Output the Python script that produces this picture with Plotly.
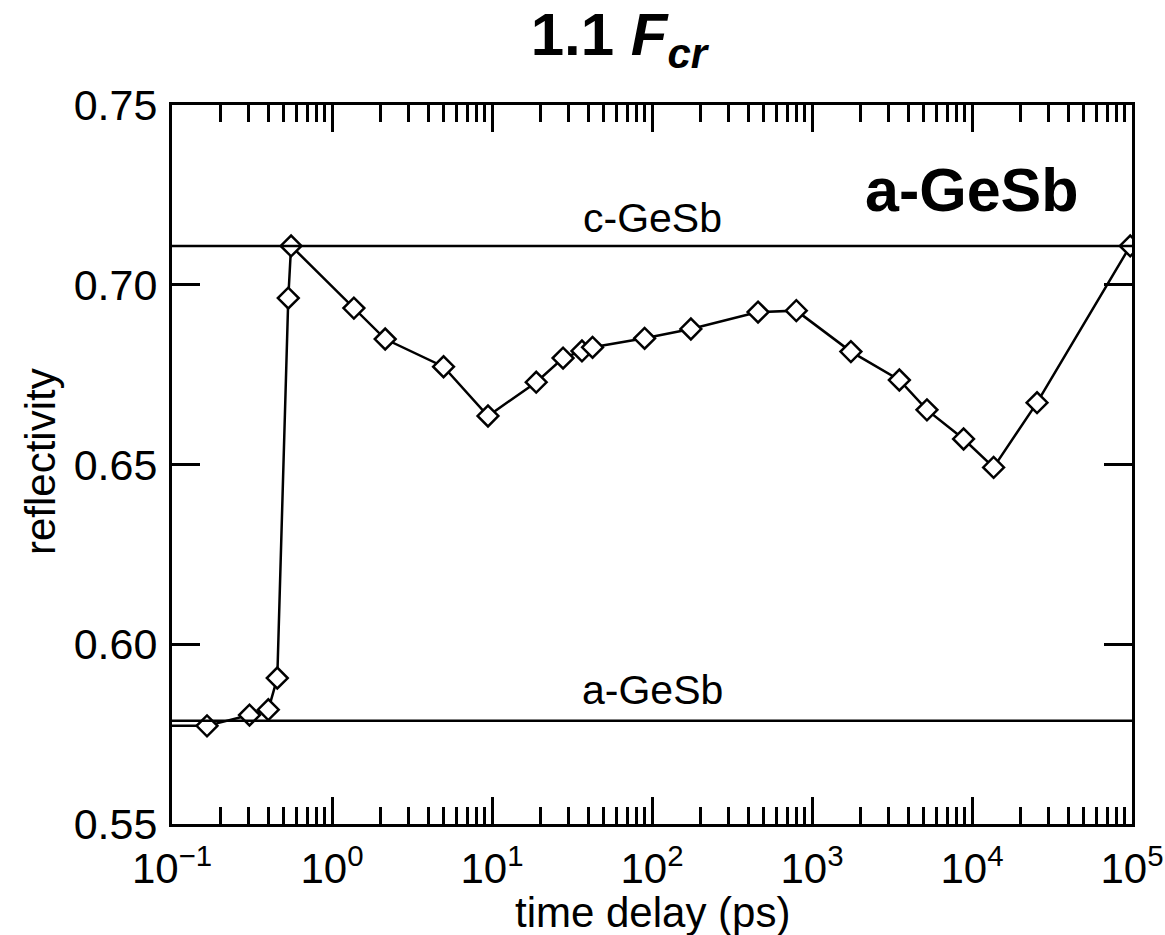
import plotly.graph_objects as go

# ---- data ----
time_ps = [0.05, 0.1655, 0.305, 0.400, 0.455, 0.533, 0.555, 1.37, 2.15, 4.98, 9.44,
           18.9, 27.8, 36.5, 42.5, 89.9, 175, 460, 798, 1750, 3515, 5230, 8860,
           13650, 25500, 97500]
reflectivity = [0.5773, 0.5773, 0.5803, 0.5818, 0.5906, 0.6963, 0.7108, 0.6935, 0.6849,
                0.6772, 0.6635, 0.6729, 0.6796, 0.6816, 0.6826, 0.6851, 0.6877,
                0.6924, 0.6928, 0.6814, 0.6735, 0.6652, 0.6571, 0.6492, 0.6672,
                0.7108]
c_gesb_level = 0.7108
a_gesb_level = 0.5787

x_tick_vals = [0.1, 1, 10, 100, 1000, 10000, 100000]
x_tick_text = ["10<sup>\u22121</sup>", "10<sup>0</sup>", "10<sup>1</sup>", "10<sup>2</sup>",
               "10<sup>3</sup>", "10<sup>4</sup>", "10<sup>5</sup>"]
x_minor_vals = [m * d for d in [0.1, 1, 10, 100, 1000, 10000] for m in range(2, 10)]
y_tick_vals = [0.55, 0.60, 0.65, 0.70, 0.75]
y_tick_text = ["0.55", "0.60", "0.65", "0.70", "0.75"]

FONT = "Arial, Liberation Sans, Helvetica, sans-serif"

fig = go.Figure()
fig.add_trace(go.Scatter(
    x=time_ps, y=reflectivity, mode="lines+markers",
    line=dict(color="black", width=2.5),
    marker=dict(symbol="diamond", size=16, color="white",
                line=dict(color="black", width=2.5)),
    showlegend=False, cliponaxis=True,
))

fig.add_hline(y=c_gesb_level, line=dict(color="black", width=2.5))
fig.add_hline(y=a_gesb_level, line=dict(color="black", width=2.5))

fig.add_annotation(x=2, y=0.7186, xref="x", yref="y", text="c-GeSb", showarrow=False,
                   font=dict(family=FONT, size=41, color="black"))
fig.add_annotation(x=2, y=0.5873, xref="x", yref="y", text="a-GeSb", showarrow=False,
                   font=dict(family=FONT, size=41, color="black"))
fig.add_annotation(x=4, y=0.7264, xref="x", yref="y", text="<b>a-GeSb</b>", showarrow=False,
                   font=dict(family=FONT, size=61, color="black"))

# axis titles as annotations for exact placement
fig.add_annotation(x=0.5, y=-(912 - 824) / 719, xref="paper", yref="paper",
                   text="time delay (ps)", showarrow=False, xanchor="center", yanchor="middle",
                   font=dict(family=FONT, size=42, color="black"))
fig.add_annotation(x=-(172 - 40) / 960, y=(824 - 462) / 719, xref="paper", yref="paper",
                   text="reflectivity", showarrow=False, textangle=-90,
                   xanchor="center", yanchor="middle",
                   font=dict(family=FONT, size=42, color="black"))

axis_common = dict(
    showline=True, linecolor="black", linewidth=3, mirror="ticks",
    ticks="inside", tickcolor="black", tickwidth=2.5, showgrid=False, zeroline=False,
    automargin=False,
)

fig.update_xaxes(
    type="log", range=[-1, 5],
    tickmode="array", tickvals=x_tick_vals, ticktext=x_tick_text, ticklen=27,
    tickfont=dict(family=FONT, size=42, color="black"), ticklabelstandoff=6,
    minor=dict(tickmode="array", tickvals=x_minor_vals, ticks="inside", ticklen=17,
               tickcolor="black", tickwidth=2.5, showgrid=False),
    **axis_common,
)
fig.update_yaxes(
    range=[0.55, 0.75],
    tickmode="array", tickvals=y_tick_vals, ticktext=y_tick_text, ticklen=28,
    tickfont=dict(family=FONT, size=43, color="black"), ticklabelstandoff=3,
    **axis_common,
)

fig.update_layout(
    width=1165, height=935,
    margin=dict(l=172, r=33, t=105, b=111, pad=0, autoexpand=False),
    paper_bgcolor="white", plot_bgcolor="white",
    title=dict(text="<b>1.1 <i>F</i><sub><i>cr</i></sub></b>",
               font=dict(family=FONT, size=60, color="black"),
               x=0.4656, xref="paper", xanchor="center",
               y=1 - 34 / 935, yref="container", yanchor="middle", automargin=False),
)

fig.write_html("out.html",
               config={"displayModeBar": False},
               post_script="document.body.style.margin='0px';"
                           "document.body.style.overflow='hidden';")
